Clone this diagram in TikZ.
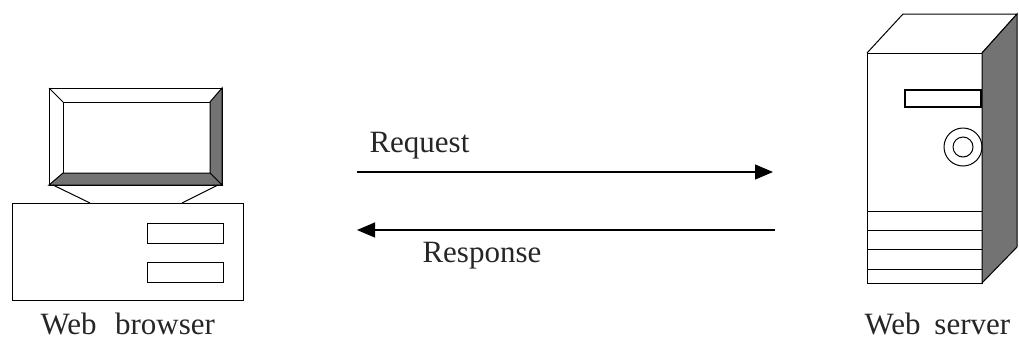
\documentclass[tikz,border=0pt]{standalone}
\usepackage{fontspec}
\setmainfont{Liberation Serif}
\usetikzlibrary{arrows.meta}

\begin{document}
\begin{tikzpicture}[x=1pt, y=-1pt, line width=1pt, darkface/.style={draw, fill=black!55}, txt/.style={inner sep=0pt, anchor=base west, text=black!85, font=\fontsize{31}{36}\selectfont}, msg/.style={-{Triangle[length=18pt, width=15pt]}, line width=1.2pt}]
                \useasboundingbox (0,0) rectangle (1019,341);
                % web browser: monitor, stand and base
                \draw (49,88) rectangle (222,185);
                \draw (63,102) rectangle (210,173);
                \draw[darkface] (222,88) -- (222,185) -- (210,173) -- (210,102) -- cycle;
                \draw[darkface] (49,185) -- (222,185) -- (210,173) -- (63,173) -- cycle;
                \draw (49,88) -- (63,102);
                \draw (53,185) -- (90,203);
                \draw (218,185) -- (182,203);
                \draw (12,203) rectangle (243,300);
                \draw (147,223) rectangle (223,243);
                \draw (147,262) rectangle (223,282);
                % web server: tower
                \draw (867,53) rectangle (982,283);
                \draw (867,53) -- (903,14) -- (1017,14) -- (982,53);
                \draw[darkface] (982,53) -- (1017,14) -- (1017,247) -- (982,283) -- cycle;
                \draw[line width=2pt] (905,90) rectangle (981,107);
                \draw (963,147) circle (19);
                \draw (963,147) circle (10);
                \foreach \y in {211,230,249,269}
                    \draw (867,\y) -- (982,\y);
                % nodes
                \node[txt] (browser) at (40,334) {Web\hspace{0.6em}browser};
                \node[txt] (server)  at (864,334) {Web\hspace{0.45em}server};
                \node[txt] (req)     at (369,152) {Request};
                \node[txt] (resp)    at (422,262) {Response};
                \coordinate (reqL)  at (357,172);
                \coordinate (reqR)  at (773,172);
                \coordinate (respR) at (775,230);
                \coordinate (respL) at (357,230);
                % edges
                \draw[msg] (reqL) -- (reqR);
                \draw[msg] (respR) -- (respL);
\end{tikzpicture}
\end{document}
